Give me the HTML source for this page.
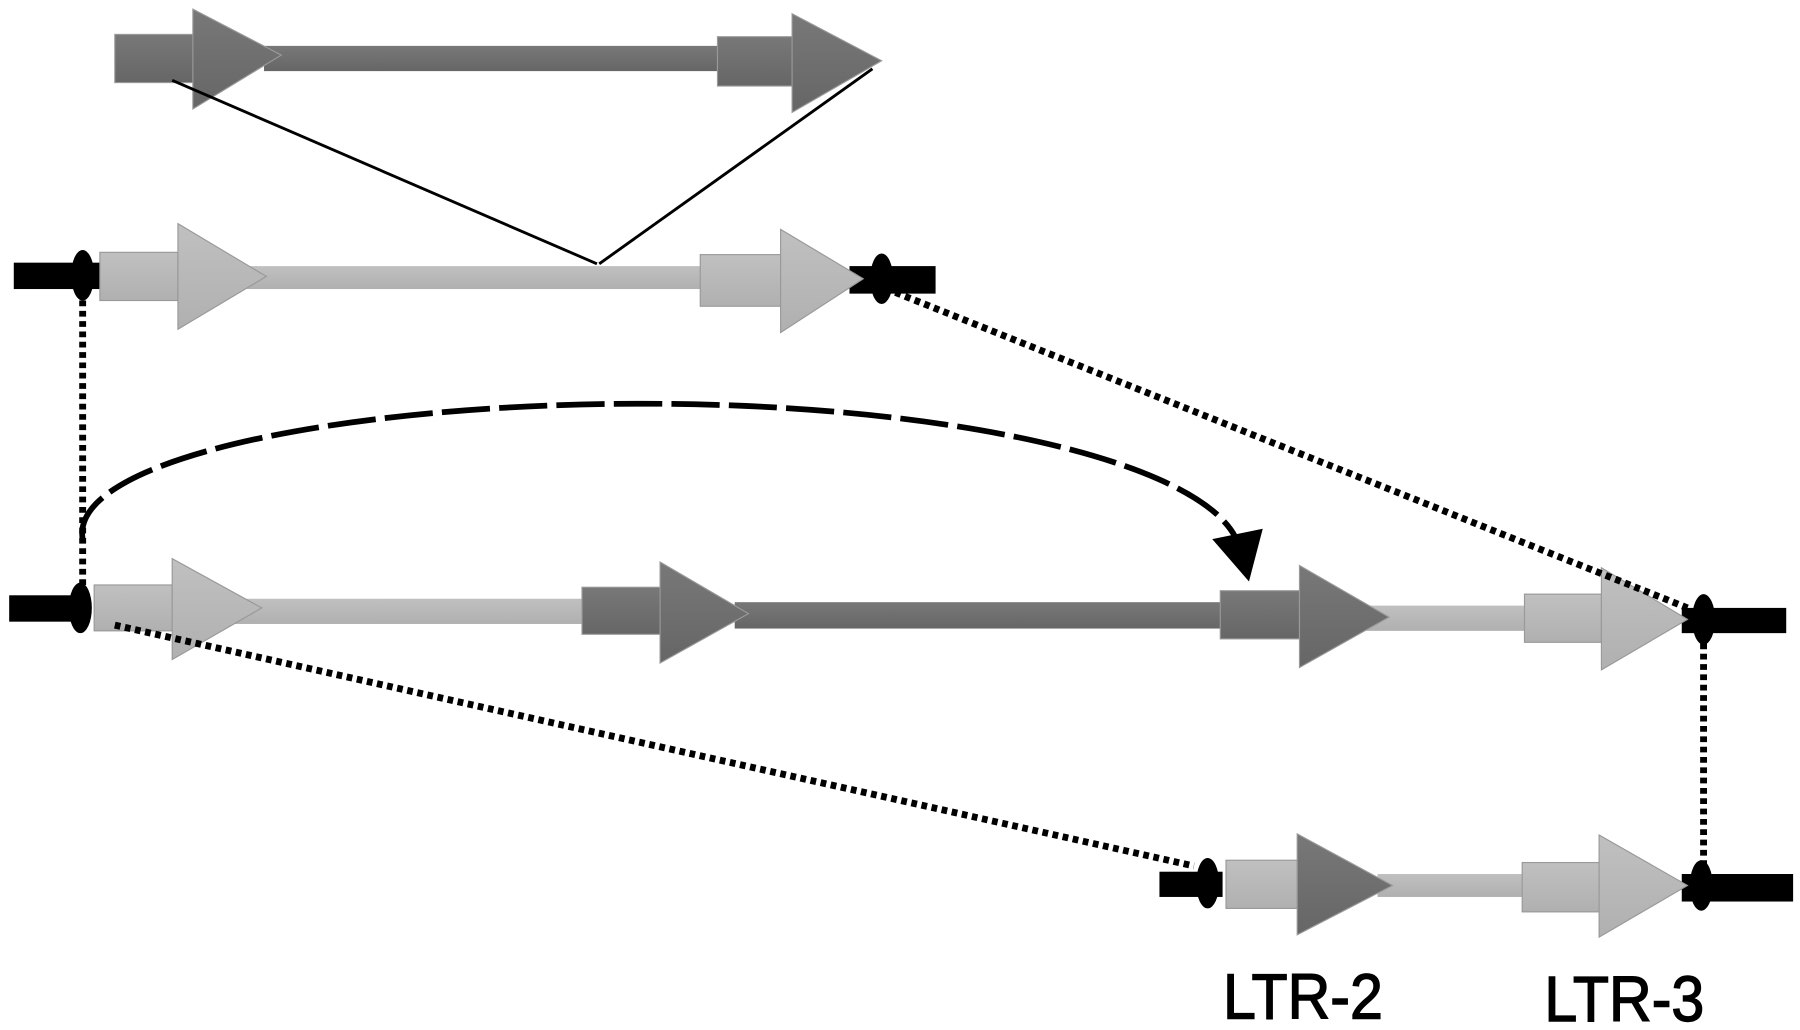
<!DOCTYPE html>
<html><head><style>html,body{margin:0;padding:0;background:#fff;}svg{display:block}</style></head>
<body>
<svg width="1800" height="1030" viewBox="0 0 1568 898" preserveAspectRatio="none" xmlns="http://www.w3.org/2000/svg">
<defs>
<linearGradient id="d" x1="0" y1="0" x2="0" y2="1"><stop offset="0" stop-color="#787878"/><stop offset="1" stop-color="#666"/></linearGradient>
<linearGradient id="l" x1="0" y1="0" x2="0" y2="1"><stop offset="0" stop-color="#c0c0c0"/><stop offset="1" stop-color="#b0b0b0"/></linearGradient>
</defs>
<g stroke="#999" stroke-width="1">
<rect x="230" y="40" width="400" height="22" fill="url(#d)" stroke="none"/>
<rect x="100" y="30" width="70" height="42" fill="url(#d)"/>
<polygon points="168,8 245,48 168,95" fill="url(#d)"/>
<rect x="625" y="32" width="65" height="43" fill="url(#d)"/>
<polygon points="690,12 768,53 690,98" fill="url(#d)"/>
<rect x="12" y="229" width="75" height="23" fill="#000" stroke="none"/>
<rect x="740" y="232" width="75" height="24" fill="#000" stroke="none"/>
<rect x="215" y="232" width="400" height="20" fill="url(#l)" stroke="none"/>
<rect x="87" y="220" width="68" height="42" fill="url(#l)"/>
<polygon points="155,195 232,241 155,287" fill="url(#l)"/>
<rect x="610" y="222" width="70" height="45" fill="url(#l)"/>
<polygon points="680,200 752,243 680,290" fill="url(#l)"/>
<rect x="8" y="519" width="70" height="23" fill="#000" stroke="none"/>
<rect x="1465" y="530" width="91" height="22" fill="#000" stroke="none"/>
<rect x="200" y="522" width="320" height="22" fill="url(#l)" stroke="none"/>
<rect x="640" y="525" width="430" height="23" fill="url(#d)" stroke="none"/>
<rect x="1190" y="528" width="145" height="22" fill="url(#l)" stroke="none"/>
<rect x="82" y="510" width="68" height="40" fill="url(#l)"/>
<polygon points="150,487 228,530 150,575" fill="url(#l)"/>
<rect x="507" y="512" width="68" height="41" fill="url(#d)"/>
<polygon points="575,490 652,535 575,578" fill="url(#d)"/>
<rect x="1063" y="515" width="69" height="42" fill="url(#d)"/>
<polygon points="1132,493 1210,538 1132,582" fill="url(#d)"/>
<rect x="1328" y="518" width="67" height="42" fill="url(#l)"/>
<polygon points="1395,495 1470,540 1395,584" fill="url(#l)"/>
<rect x="1010" y="760" width="55" height="22" fill="#000" stroke="none"/>
<rect x="1465" y="762" width="97" height="24" fill="#000" stroke="none"/>
<rect x="1200" y="762" width="135" height="20" fill="url(#l)" stroke="none"/>
<rect x="1068" y="750" width="62" height="42" fill="url(#l)"/>
<polygon points="1130,727 1213,772 1130,815" fill="url(#d)"/>
<rect x="1326" y="752" width="67" height="43" fill="url(#l)"/>
<polygon points="1393,728 1470,772 1393,817" fill="url(#l)"/>
</g>
<g fill="#000">
<ellipse cx="72" cy="240" rx="10" ry="22"/>
<ellipse cx="768" cy="243" rx="10" ry="22"/>
<ellipse cx="70" cy="530" rx="10" ry="22"/>
<ellipse cx="1484" cy="540" rx="10" ry="22"/>
<ellipse cx="1052" cy="770" rx="10" ry="22"/>
<ellipse cx="1482" cy="772" rx="10" ry="22"/>
</g>
<g stroke="#000" stroke-width="2.5" fill="none">
<line x1="150" y1="70" x2="520" y2="230"/>
<line x1="760" y1="60" x2="522" y2="230"/>
</g>
<g stroke="#000" stroke-width="6" stroke-dasharray="5 4" fill="none">
<line x1="72" y1="262" x2="72" y2="520"/>
<line x1="780" y1="255" x2="1470" y2="530"/>
<line x1="100" y1="545" x2="1040" y2="755"/>
<line x1="1484" y1="552" x2="1484" y2="762"/>
</g>
<path d="M72,470 C60,400 300,352 560,352 C820,352 1040,400 1076,468" stroke="#000" stroke-width="5" stroke-dasharray="42 8" fill="none"/>
<polygon points="1056,470 1100,461 1088,507" fill="#000"/>
<g font-family="Liberation Sans, sans-serif" font-size="56" fill="#000" stroke="#000" stroke-width="1.2" text-anchor="middle">
<text transform="translate(1135,888) scale(0.92,1)">LTR-2</text>
<text transform="translate(1415,890) scale(0.92,1)">LTR-3</text>
</g>
</svg>
</body></html>
